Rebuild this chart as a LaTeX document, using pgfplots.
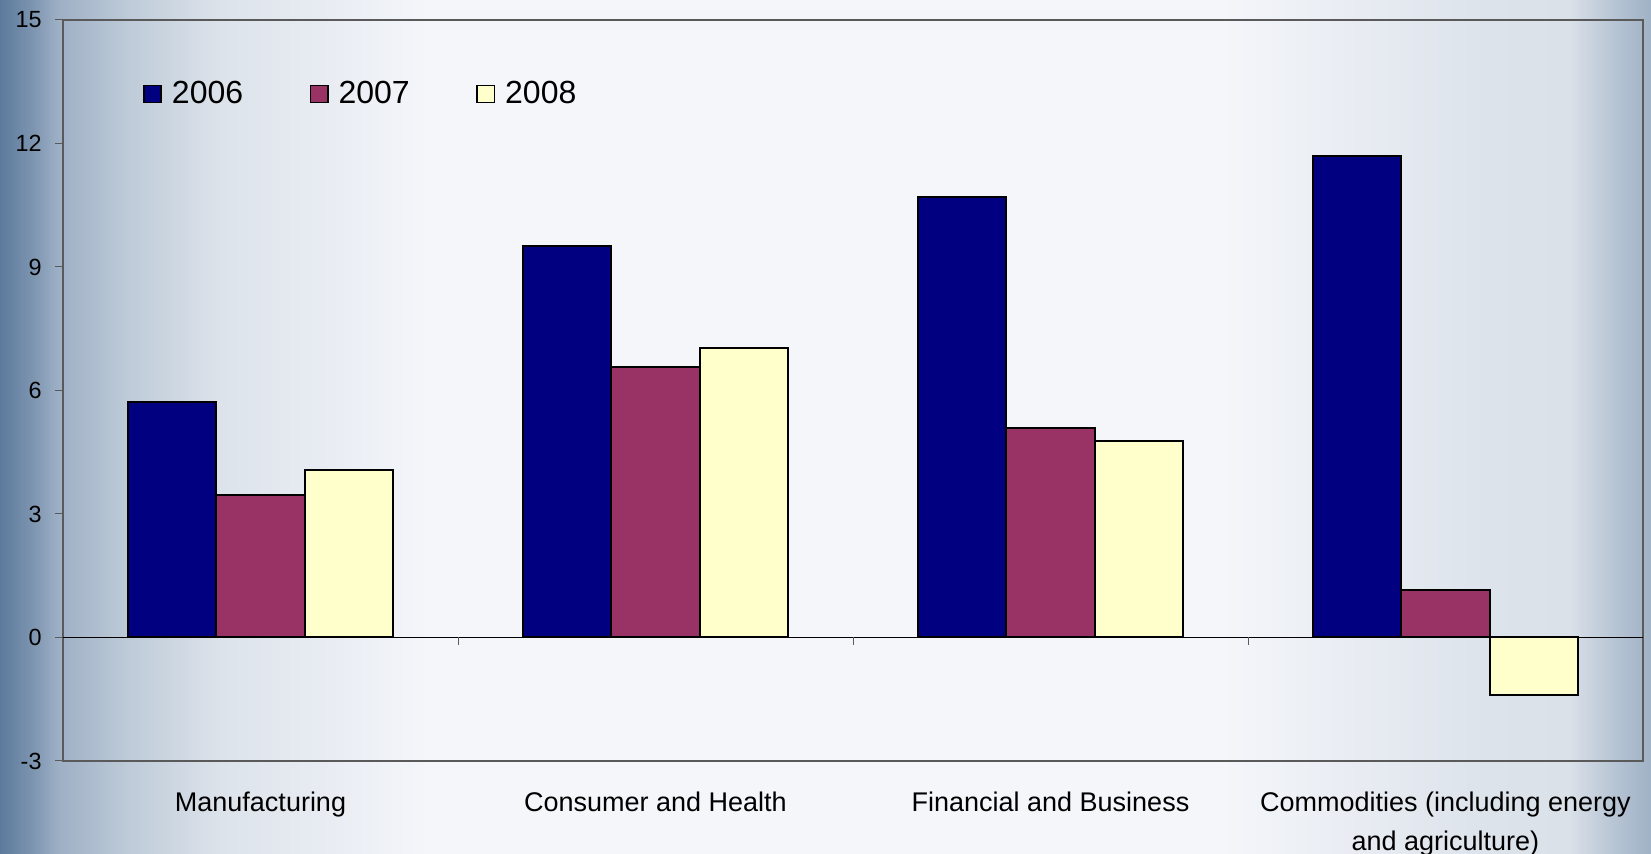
\documentclass[border=0pt]{standalone}
\usepackage{fontspec}
\setmainfont{Liberation Sans}
\usepackage{pgfplots}
\pgfplotsset{compat=1.18}
\definecolor{c06}{HTML}{000080}
\definecolor{c07}{HTML}{993366}
\definecolor{c08}{HTML}{FFFFCC}
\definecolor{framec}{HTML}{5A5A5A}
\definecolor{bgA}{RGB}{92,122,156}
\definecolor{bgB}{RGB}{122,146,174}
\definecolor{bgC}{RGB}{158,176,197}
\definecolor{bgD}{RGB}{190,203,216}
\definecolor{bgE}{RGB}{221,227,235}
\definecolor{bgF}{RGB}{244,246,250}
\definecolor{bgG}{RGB}{218,225,233}
\definecolor{bgH}{RGB}{180,194,210}
\definecolor{bgI}{RGB}{160,178,198}
\pgfdeclarehorizontalshading{bgshade}{100bp}{color(0bp)=(bgA); color(25bp)=(bgA); color(25.9bp)=(bgB); color(26.8bp)=(bgC); color(28.9bp)=(bgD); color(31.7bp)=(bgE); color(38bp)=(bgF); color(62bp)=(bgF); color(70bp)=(bgE); color(72.5bp)=(bgG); color(74bp)=(bgH); color(75bp)=(bgI); color(100bp)=(bgI)}
\begin{document}
\begin{tikzpicture}
\shade[shading=bgshade] (-31.5pt,-46.5pt) rectangle (794pt,380.5pt);
\begin{axis}[
  width=790pt, height=370.5pt, scale only axis,
  xmin=-0.5, xmax=3.5, ymin=-3, ymax=15,
  ytick={-3,0,3,6,9,12,15},
  xtick={0,1,2,3},
  xticklabels={Manufacturing, Consumer and Health, Financial and Business, {Commodities (including energy\\and agriculture)}},
  x tick style={draw=none},
  ytick pos=left,
  tick align=outside,
  major tick length=4pt,
  tick style={draw=framec, line width=0.5pt},
  axis line style={draw=framec, line width=0.6pt},
  /pgf/number format/assume math mode=true,
  yticklabel style={font=\fontsize{11.7}{14}\selectfont, xshift=-3.2pt},
  xticklabel style={align=center, font=\fontsize{13.5}{19.5}\selectfont, yshift=-8pt},
  ybar=0pt, bar width=0.224,
  legend image code/.code={\draw[#1,line width=0.8pt] (0pt,-4.3pt) rectangle (8.6pt,4.3pt);},
  legend style={at={(0.0467,0.9)}, anchor=west, draw=none, fill=none,
    font=\fontsize{16}{19}\selectfont,
    /tikz/every odd column/.append style={column sep=3pt},
    /tikz/every even column/.append style={column sep=31.3pt}},
  legend columns=3,
]
\draw[black, line width=0.6pt] (axis cs:-0.5,0) -- (axis cs:3.5,0);
\addplot[fill=c06, draw=black, line width=1pt, bar shift=-0.224] coordinates {(0,5.72) (1,9.52) (2,10.70) (3,11.70)};
\addplot[fill=c07, draw=black, line width=1pt, bar shift=0] coordinates {(0,3.47) (1,6.58) (2,5.08) (3,1.15)};
\addplot[fill=c08, draw=black, line width=1pt, bar shift=0.224] coordinates {(0,4.08) (1,7.02) (2,4.77) (3,-1.40)};
\draw[framec, line width=0.5pt] (axis cs:0.5,0) -- ++(0pt,-4pt);
\draw[framec, line width=0.5pt] (axis cs:1.5,0) -- ++(0pt,-4pt);
\draw[framec, line width=0.5pt] (axis cs:2.5,0) -- ++(0pt,-4pt);
\legend{2006,2007,2008}
\end{axis}
\pgfresetboundingbox
\path (-31.5pt,-46.5pt) rectangle (794pt,380.5pt);
\end{tikzpicture}
\end{document}
